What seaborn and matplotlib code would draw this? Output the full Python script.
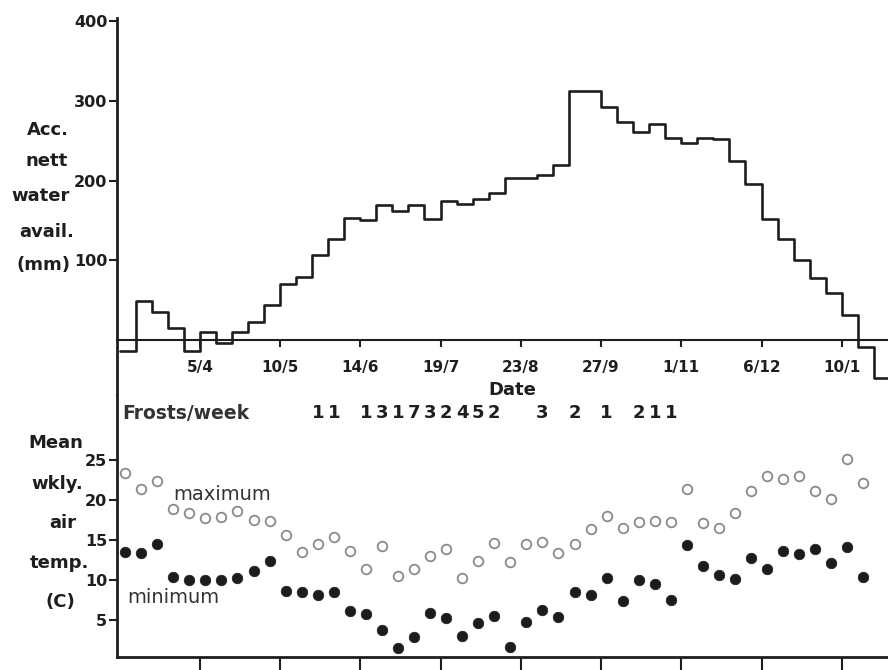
import numpy as np
import pandas as pd
import matplotlib
matplotlib.use("Agg")
import matplotlib.pyplot as plt
import seaborn as sns

# ---------------- data ----------------
# accumulated nett water availability (mm), one value per week starting 1/3
water = [-14, 48, 34, 15, -14, 10, -4, 10, 22, 44,
         70, 79, 106, 126, 153, 150, 169, 162, 169, 152,
         174, 171, 177, 184, 203, 203, 207, 219, 313, 313,
         292, 273, 261, 271, 254, 247, 254, 252, 224, 195,
         152, 127, 100, 77, 58, 31, -10, -48]

# mean weekly air temperature (C)
tmax = [23.4, 21.3, 22.3, 18.8, 18.4, 17.7, 17.8, 18.6, 17.5, 17.3,
        15.6, 13.5, 14.5, 15.3, 13.6, 11.4, 14.2, 10.5, 11.4, 13.0,
        13.9, 10.25, 12.4, 14.6, 12.25, 14.5, 14.7, 13.4, 14.5, 16.4,
        18.0, 16.5, 17.2, 17.3, 17.2, 21.3, 17.1, 16.5, 18.3, 21.1,
        23.0, 22.6, 23.0, 21.1, 20.05, 25.1, 22.1]
tmin = [13.5, 13.3, 14.5, 10.3, 10.0, 10.0, 10.0, 10.2, 11.1, 12.3,
        8.55, 8.5, 8.1, 8.5, 6.1, 5.7, 3.7, 1.5, 2.8, 5.9,
        5.2, 3.0, 4.55, 5.5, 1.6, 4.7, 6.2, 5.3, 8.5, 8.1,
        10.2, 7.3, 10.0, 9.5, 7.5, 14.3, 11.7, 10.6, 10.05, 12.7,
        11.4, 13.6, 13.2, 13.8, 12.05, 14.1, 10.3]

# frosts per week ('' = none)
frosts = ['', '', '', '', '', '', '', '', '', '',
          '', '', '1', '1', '', '1', '3', '1', '7', '3',
          '2', '4', '5', '2', '', '', '3', '', '2', '',
          '1', '', '2', '1', '1', '', '', '', '', '',
          '', '', '', '', '', '', '']

tick_weeks = [5, 10, 15, 20, 25, 30, 35, 40, 45]
tick_labels = ['5/4', '10/5', '14/6', '19/7', '23/8', '27/9', '1/11', '6/12', '10/1']

# ---------------- frames ----------------
edges = np.arange(len(water) + 1)
df_water = pd.DataFrame({"week": edges, "mm": water + [water[-1]]})
weeks_t = np.arange(len(tmax)) + 0.35
df_temp = pd.DataFrame({"week": weeks_t, "tmax": tmax, "tmin": tmin})

# ---------------- style ----------------
sns.set_theme(style="ticks")
plt.rcParams["font.family"] = ["DejaVu Sans"]
INK = "#1e1e1e"
plt.rcParams["axes.edgecolor"] = INK
plt.rcParams["xtick.color"] = INK
plt.rcParams["ytick.color"] = INK

W, H = 888, 670
fig = plt.figure(figsize=(W / 100, H / 100), dpi=100)
fig.patch.set_facecolor("white")


def px_axes(x0, y0, x1, y1):
    return fig.add_axes([x0 / W, 1 - y1 / H, (x1 - x0) / W, (y1 - y0) / H])


ax1 = px_axes(117, 18, 888, 395)
ax2 = px_axes(117, 395, 888, 657)
XL = (-0.156, 47.88)

# ---------------- top panel: water availability ----------------
sns.lineplot(data=df_water, x="week", y="mm", ax=ax1, drawstyle="steps-post",
             color=INK, linewidth=1.9, estimator=None, sort=False)
ax1.set_xlim(*XL)
ax1.set_ylim(-69.8, 404.4)
for s in ("top", "right"):
    ax1.spines[s].set_visible(False)
ax1.spines["bottom"].set_position(("data", 0))
ax1.spines["bottom"].set_linewidth(1.5)
ax1.spines["left"].set_linewidth(2.0)
ax1.set_yticks([100, 200, 300, 400])
ax1.set_yticklabels(['100', '200', '300', '400'], fontweight="bold", fontsize=11.5)
ax1.set_xticks(tick_weeks)
ax1.set_xticklabels(tick_labels, fontweight="bold", fontsize=11)
ax1.tick_params(axis="y", direction="out", length=6, width=1.5, pad=1)
ax1.tick_params(axis="x", direction="out", length=5, width=1.5, pad=10)
ax1.set_xlabel("")
ax1.set_ylabel("")
ax1.text(24.5, -63.5, "Date", ha="center", va="center",
         fontweight="bold", fontsize=13, color=INK)

# ---------------- bottom panel: temperatures ----------------
sns.scatterplot(data=df_temp, x="week", y="tmax", ax=ax2, marker="o", s=48,
                facecolor="white", edgecolor="#8a8a8a", linewidth=1.3, zorder=3)
sns.scatterplot(data=df_temp, x="week", y="tmin", ax=ax2, marker="o", s=58,
                color="#1c1c1c", edgecolor="#1c1c1c", linewidth=0.5, zorder=3)
ax2.set_xlim(*XL)
ax2.set_ylim(0.34, 33.09)
for s in ("top", "right"):
    ax2.spines[s].set_visible(False)
ax2.spines["left"].set_linewidth(2.0)
ax2.spines["bottom"].set_linewidth(2.0)
ax2.set_yticks([5, 10, 15, 20, 25])
ax2.set_yticklabels(['5', '10', '15', '20', '25'], fontweight="bold", fontsize=11.5)
ax2.set_xticks(tick_weeks)
ax2.set_xticklabels([""] * len(tick_weeks))
ax2.tick_params(axis="y", direction="out", length=6, width=1.5, pad=1)
ax2.tick_params(axis="x", direction="out", length=14, width=1.5)
ax2.set_xlabel("")
ax2.set_ylabel("")

ax2.text(0.14, 30.8, "Frosts/week", ha="left", va="center",
         fontweight="bold", fontsize=13.5, color="#333333")
for w, f in zip(weeks_t, frosts):
    if f:
        ax2.text(w, 30.8, f, ha="center", va="center",
                 fontweight="bold", fontsize=13, color=INK)
ax2.text(6.42, 20.7, "maximum", ha="center", va="center", fontsize=14, color="#333333")
ax2.text(3.36, 7.8, "minimum", ha="center", va="center", fontsize=14, color="#333333")

# ---------------- side labels ----------------
top_lab = [("Acc.", 48, 130), ("nett", 47, 161), ("water", 41, 196),
           ("avail.", 47, 232), ("(mm)", 43, 265)]
bot_lab = [("Mean", 56, 443), ("wkly.", 57, 484), ("air", 63, 523),
           ("temp.", 59, 563), ("(C)", 60, 602)]
for t, x, y in top_lab + bot_lab:
    fig.text(x / W, 1 - y / H, t, ha="center", va="center",
             fontweight="bold", fontsize=13, color=INK)

fig.savefig("out.png", dpi=100, facecolor="white")
